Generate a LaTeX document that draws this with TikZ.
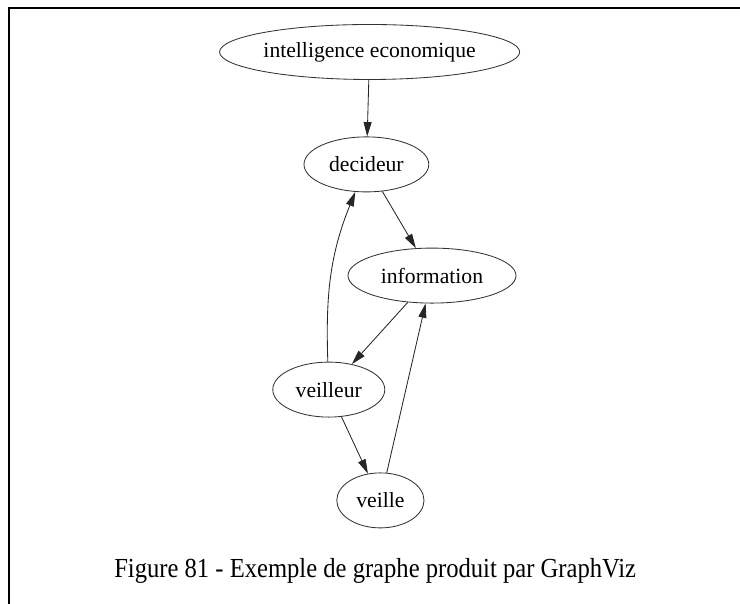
\documentclass[tikz,border=0pt]{standalone}
\usepackage{fontspec}
\setmainfont{Liberation Serif}
\usepackage{tikz}
\usetikzlibrary{arrows.meta,positioning,shapes.geometric}

\begin{document}
\begin{tikzpicture}[
  gnode/.style={draw=black!80, line width=0.6pt, ellipse, inner sep=0pt,
    minimum height=1.375cm, font=\fontsize{15.4}{18}\selectfont},
  arr/.style={-{Triangle[length=3.6mm,width=2mm]}, line width=0.6pt, draw=black!85},
  caption/.style={anchor=base, font=\fontsize{17.5}{21}\selectfont}
]
\useasboundingbox (0,0) rectangle (18.5,15.1);
% cadre
\draw[line width=1.4pt] (0.225,0) -- (0.225,14.91) -- (18.5,14.91);

\node[gnode, minimum width=7.12cm] (intel) at (9.24,13.80) {intelligence economique};
\node[gnode, minimum width=3.12cm] (dec) at (9.16,10.99) {decideur};
\node[gnode, minimum width=4.2cm] (info) at (10.80,8.21) {information};
\node[gnode, minimum width=2.8cm] (veil) at (8.22,5.36) {veilleur};
\node[gnode, minimum width=2.18cm] (veille) at (9.51,2.59) {veille};

\node[caption] (cap) at (9.38,0.65) {\scalebox{1}[1.12]{Figure 81 - Exemple de graphe produit par GraphViz}};

\draw[arr] (intel) -- (dec);
\draw[arr] (dec) -- (info);
\draw[arr] (info) -- (veil);
\draw[arr] (veil) to[out=92, in=-112] (dec);
\draw[arr] (veil) -- (veille);
\draw[arr] (veille) -- (info);
\end{tikzpicture}
\end{document}
